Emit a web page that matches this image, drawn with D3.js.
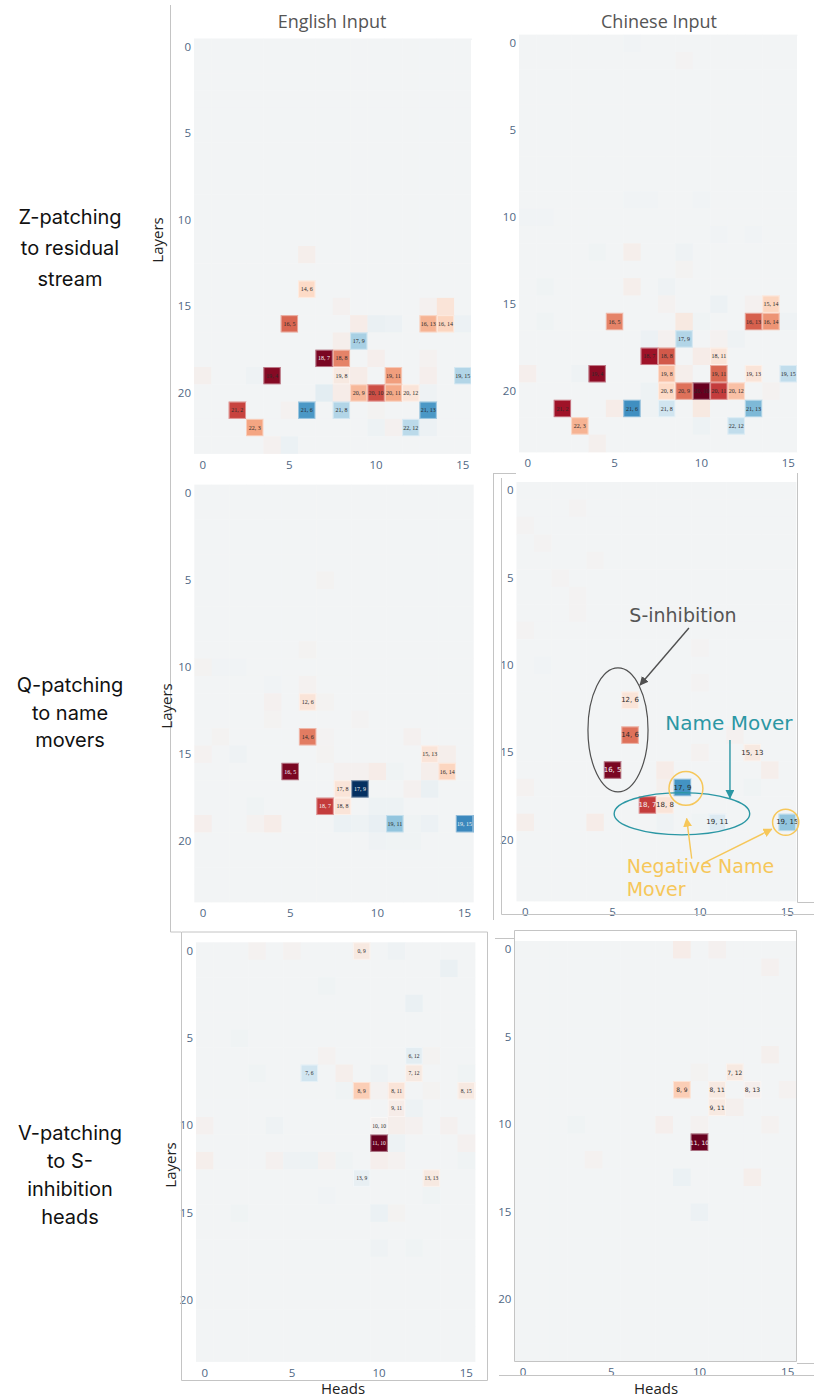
<!DOCTYPE html>
<html>
<head>
<meta charset="utf-8">
<script src="https://cdn.jsdelivr.net/npm/d3@7"></script>
<style>
  body { margin: 0; background: #fff; }
  svg { display: block; }
</style>
</head>
<body>
<svg id="fig"></svg>
<script>
const W = 814, H = 1399;
const HEADS = d3.range(16);
const LAYERS = d3.range(24);
const X_TICKS = [0, 5, 10, 15];
const Y_TICKS = [0, 5, 10, 15, 20];
const COL_TITLES = ["English Input", "Chinese Input"];
const ROW_TITLES = [
    ["Z-patching", "to residual", "stream"],
    ["Q-patching", "to name", "movers"],
    ["V-patching", "to S-", "inhibition", "heads"]
];

// [layer, head, value, labelled]
const zEnglish = [
    [12,6,0.08,0],[14,6,0.2,1],[15,8,0.05,0],[15,13,0.05,0],[15,14,0.15,0],
    [16,5,0.58,1],[16,9,0.1,0],[16,10,-0.08,0],[16,11,-0.06,0],[16,13,0.35,1],[16,14,0.22,1],[16,15,-0.06,0],
    [17,8,0.08,0],[17,9,-0.33,1],
    [18,7,0.95,1],[18,8,0.5,1],[18,10,0.07,0],[18,13,0.04,0],
    [19,0,0.06,0],[19,3,-0.04,0],[19,4,0.92,1],[19,8,0.12,1],[19,9,0.1,0],[19,11,0.42,1],[19,13,0.07,0],[19,15,-0.3,1],
    [20,7,-0.12,0],[20,8,0.1,0],[20,9,0.33,1],[20,10,0.65,1],[20,11,0.38,1],[20,12,0.15,1],[20,13,-0.04,0],
    [21,2,0.68,1],[21,5,0.04,0],[21,6,-0.58,1],[21,8,-0.3,1],[21,10,0.03,0],[21,13,-0.58,1],
    [22,3,0.4,1],[22,10,-0.05,0],[22,11,0.05,0],[22,12,-0.27,1],[22,13,-0.06,0],
    [23,4,0.05,0],[23,5,-0.07,0]
];
const zChinese = [
    [0,6,-0.02,0],[1,9,0.02,0],[9,6,-0.02,0],[9,7,-0.02,0],[9,10,-0.02,0],[10,0,-0.02,0],[10,1,-0.02,0],
    [11,11,-0.02,0],[11,13,-0.02,0],
    [12,4,-0.03,0],[12,6,0.08,0],[12,9,-0.04,0],[13,9,0.03,0],[14,1,-0.03,0],[14,6,0.08,0],[14,8,-0.04,0],
    [15,8,0.04,0],[15,11,-0.06,0],[15,13,0.05,0],[15,14,0.22,1],
    [16,1,-0.03,0],[16,5,0.5,1],[16,9,0.12,0],[16,10,-0.03,0],[16,13,0.6,1],[16,14,0.45,1],[16,15,-0.04,0],
    [17,7,-0.06,0],[17,8,0.05,0],[17,9,-0.3,1],[17,11,0.04,0],[17,12,-0.04,0],
    [18,7,0.85,1],[18,8,0.62,1],[18,10,0.1,0],[18,11,0.15,1],
    [19,0,0.07,0],[19,3,-0.04,0],[19,4,0.9,1],[19,8,0.3,1],[19,9,0.08,0],[19,11,0.58,1],[19,13,0.15,1],[19,15,-0.25,1],
    [20,7,-0.05,0],[20,8,0.2,1],[20,9,0.55,1],[20,10,1.0,1],[20,11,0.7,1],[20,12,0.3,1],[20,14,0.04,0],
    [21,2,0.85,1],[21,5,0.1,0],[21,6,-0.62,1],[21,7,-0.04,0],[21,8,-0.2,1],[21,10,0.12,0],[21,13,-0.45,1],
    [22,3,0.35,1],[22,10,-0.05,0],[22,12,-0.25,1],
    [23,4,0.06,0]
];
const qEnglish = [
    [5,7,0.03,0],[9,6,0.03,0],[10,0,0.03,0],[10,1,-0.02,0],[10,2,-0.02,0],[11,4,-0.02,0],[11,6,0.04,0],
    [12,4,0.05,0],[12,6,0.15,1],[12,7,0.03,0],[13,4,0.03,0],[13,9,0.02,0],
    [14,1,0.03,0],[14,6,0.52,1],[14,7,0.02,0],[14,12,0.05,0],
    [15,0,0.04,0],[15,2,-0.04,0],[15,7,0.03,0],[15,13,0.15,1],[15,14,0.08,0],
    [16,5,0.95,1],[16,8,0.05,0],[16,9,0.05,0],[16,10,0.1,0],[16,11,-0.03,0],[16,13,0.08,0],[16,14,0.22,1],
    [17,8,0.15,1],[17,9,-1.0,1],[17,12,0.05,0],[17,13,-0.08,0],
    [18,3,-0.03,0],[18,7,0.7,1],[18,8,0.15,1],[18,10,-0.05,0],[18,11,-0.05,0],
    [19,0,0.07,0],[19,3,0.04,0],[19,4,0.1,0],[19,8,-0.07,0],[19,9,-0.05,0],[19,10,-0.1,0],[19,11,-0.4,1],
    [19,12,-0.03,0],[19,13,-0.06,0],[19,15,-0.65,1],
    [20,10,-0.04,0],[20,11,-0.03,0],[20,12,-0.03,0]
];
const qChinese = [
    [1,3,0.02,0],[2,0,0.02,0],[3,1,0.02,0],[4,4,0.02,0],[5,2,0.02,0],[6,3,0.02,0],[7,3,0.02,0],[8,0,0.02,0],
    [9,10,0.02,0],[10,1,-0.02,0],[11,10,0.02,0],
    [12,6,0.15,1],[14,6,0.55,1],[14,12,0.05,0],
    [15,10,0.04,0],[15,13,0.12,1],[16,5,0.95,1],[16,8,0.1,0],[16,14,0.08,0],
    [17,0,0.04,0],[17,8,0.06,0],[17,9,-0.6,1],[17,13,-0.03,0],
    [18,7,0.7,1],[18,8,0.15,1],
    [19,0,0.08,0],[19,4,0.1,0],[19,8,-0.04,0],[19,10,-0.03,0],[19,11,-0.15,1],[19,15,-0.4,1]
];
const vEnglish = [
    [0,3,0.04,0],[0,5,0.04,0],[0,9,0.12,1],[0,11,-0.04,0],[1,14,-0.08,0],[2,7,-0.03,0],[3,12,-0.08,0],[5,2,-0.03,0],
    [6,7,0.04,0],[6,12,-0.12,1],[6,13,0.03,0],
    [7,3,-0.03,0],[7,6,-0.2,1],[7,8,0.08,0],[7,10,-0.04,0],[7,12,0.12,1],[7,15,-0.03,0],
    [8,8,-0.03,0],[8,9,0.25,1],[8,10,0.04,0],[8,11,0.15,1],[8,13,0.03,0],[8,15,0.12,1],
    [9,11,0.1,1],[9,12,-0.05,0],
    [10,0,0.05,0],[10,4,-0.04,0],[10,10,0.04,1],[10,11,0.08,0],[10,12,0.05,0],[10,14,0.05,0],
    [11,10,1.0,1],[11,11,-0.05,0],[11,15,0.05,0],
    [12,0,0.08,0],[12,4,0.05,0],[12,5,-0.04,0],[12,6,-0.05,0],[12,7,0.04,0],[12,8,-0.03,0],[12,10,0.07,0],
    [12,11,0.04,0],[12,15,-0.03,0],
    [13,9,-0.1,1],[13,13,0.12,1],[14,7,-0.02,0],[14,13,-0.03,0],
    [15,2,-0.03,0],[15,10,-0.07,0],[15,11,0.03,0],[17,10,-0.04,0],[17,12,-0.03,0]
];
const vChinese = [
    [0,9,0.1,0],[0,11,0.05,0],[1,14,0.05,0],[6,14,0.06,0],
    [7,10,0.03,0],[7,12,0.12,1],
    [8,9,0.25,1],[8,11,0.12,1],[8,13,0.07,1],[8,15,0.04,0],
    [9,11,0.12,1],[9,12,0.06,0],
    [10,3,-0.03,0],[10,8,0.07,0],[10,10,0.04,0],[10,14,0.04,0],
    [11,10,1.0,1],
    [12,4,0.04,0],[13,9,-0.07,0],[13,13,0.08,0],[15,10,-0.06,0]
];

const svg = d3.select("#fig").attr("width", W).attr("height", H);

// RdBu, positive = red, with a slightly cool neutral like the screenshots;
// the extra stops at +-0.1 keep near-zero cells as faint as in the original
const color = d3.scaleLinear()
    .domain([-1, -0.8, -0.6, -0.4, -0.2, -0.1, 0, 0.1, 0.2, 0.4, 0.6, 0.8, 1])
    .range(["#053061", "#2166ac", "#4393c3", "#92c5de", "#d1e5f0", "#e8eff3", "#f2f4f5",
            "#f6ece8", "#fddbc7", "#f4a582", "#d6604d", "#b2182b", "#67001f"])
    .clamp(true);

const SERIF = "'Liberation Serif', 'DejaVu Serif', serif";
const SANS = "'DejaVu Sans', sans-serif";
const PLOTLY = "'Open Sans', 'Liberation Sans', sans-serif";

const panels = [
    {cells: zEnglish, left: 194, top: 38.5, right: 471.5, bottom: 453.5, font: SERIF, size: 6, white: 0.93},
    {cells: zChinese, left: 519, top: 34.6, right: 797, bottom: 452, font: SERIF, size: 6, white: 2},
    {cells: qEnglish, left: 194.3, top: 484.6, right: 473.3, bottom: 902, font: SERIF, size: 6, white: 0.65},
    {cells: qChinese, left: 516.5, top: 482, right: 796, bottom: 901, font: SANS, size: 7, white: 0.65},
    {cells: vEnglish, left: 196, top: 942.3, right: 475, bottom: 1361.5, font: SERIF, size: 5.5, white: 0.65},
    {cells: vChinese, left: 514.3, top: 941, right: 796.5, bottom: 1361, font: SANS, size: 6, white: 0.65}
];


function drawPanel(p) {
    const x = d3.scaleBand().domain(HEADS).range([p.left, p.right]);
    const y = d3.scaleBand().domain(LAYERS).range([p.top, p.bottom]);
    const lookup = new Map(p.cells.map(d => [d[0] + "," + d[1], d]));
    const grid = [];
    LAYERS.forEach(l => HEADS.forEach(h => {
        const c = lookup.get(l + "," + h);
        grid.push({layer: l, head: h, value: c ? c[2] : 0, label: c ? c[3] : 0});
    }));

    const g = svg.append("g");
    g.selectAll(".cell").data(grid).join("rect")
        .attr("class", "cell")
        .attr("x", d => x(d.head))
        .attr("y", d => y(d.layer))
        .attr("width", x.bandwidth() + 0.4)
        .attr("height", y.bandwidth() + 0.4)
        .attr("fill", d => color(d.value));

    const labelled = grid.filter(d => d.label);
    g.selectAll(".hl").data(labelled).join("rect")
        .attr("class", "hl")
        .attr("x", d => x(d.head) + 0.5)
        .attr("y", d => y(d.layer) + 0.5)
        .attr("width", x.bandwidth() - 1)
        .attr("height", y.bandwidth() - 1)
        .attr("fill", "none")
        .attr("stroke", "rgba(255,255,255,0.45)")
        .attr("stroke-width", 1);
    g.selectAll(".lbl").data(labelled).join("text")
        .attr("class", "lbl")
        .attr("x", d => x(d.head) + x.bandwidth() / 2)
        .attr("y", d => y(d.layer) + y.bandwidth() / 2)
        .attr("text-anchor", "middle")
        .attr("dominant-baseline", "central")
        .style("font-family", p.font)
        .style("font-size", p.size + "px")
        .style("fill", d => Math.abs(d.value) >= p.white ? "#f4f4f4" : "#2a2a2a")
        .text(d => d.layer + ", " + d.head);

    // axes
    const ax = g.append("g")
        .attr("transform", "translate(0," + p.bottom + ")")
        .call(d3.axisBottom(x).tickValues(X_TICKS).tickSize(0).tickPadding(7));
    const ay = g.append("g")
        .attr("transform", "translate(" + p.left + ",0)")
        .call(d3.axisLeft(y).tickValues(Y_TICKS).tickSize(0).tickPadding(3));
    [ax, ay].forEach(a => {
        a.select(".domain").remove();
        a.selectAll("text")
            .style("font-family", PLOTLY)
            .style("font-size", "11.5px")
            .style("fill", "#506784");
    });
}

panels.forEach(drawPanel);


// collage borders between screenshots
const frames = [
    "M170.5,5 V932 H181",
    "M181.5,932 H487.5 V1380.5 H181.5 Z",
    "M493.5,473 V920 M493.5,473.5 H516 M501.5,478 V914.5 H814 M797.5,473 V902.5 H814",
    "M514.5,930.5 H796.5 V1361.5 H514.5 Z M495,938.5 H514 M797,1363.5 H814 M499,1375.5 H814",
    "M471.5,40 V454 M797.5,36 V452"
];
svg.append("g").selectAll("path").data(frames).join("path")
    .attr("d", d => d)
    .attr("fill", "none")
    .attr("stroke", (d, i) => i === 4 ? "#ffffff" : "#c4c4c4")
    .attr("stroke-width", 1);

// column titles
svg.selectAll(".coltitle").data(COL_TITLES).join("text")
    .attr("class", "coltitle")
    .attr("x", (d, i) => i === 0 ? 332 : 659)
    .attr("y", 28)
    .attr("text-anchor", "middle")
    .style("font-family", PLOTLY)
    .style("font-size", "18px")
    .style("fill", "#555")
    .text(d => d);

// row titles on the left
const rowTops = [217, 685, 1133];
const rowSteps = [31, 27.5, 28];
ROW_TITLES.forEach((lines, r) => {
    svg.append("text")
        .attr("x", 70)
        .attr("text-anchor", "middle")
        .style("font-family", "Inter, 'Noto Sans', sans-serif")
        .style("font-size", "20px")
        .style("fill", "#111")
        .selectAll("tspan").data(lines).join("tspan")
        .attr("x", 70)
        .attr("y", (d, i) => rowTops[r] + 7 + i * rowSteps[r])
        .text(d => d);
});

// axis titles
const layerTitles = [[157, 240], [166, 706], [170, 1165]];
svg.selectAll(".ytitle").data(layerTitles).join("text")
    .attr("class", "ytitle")
    .attr("transform", d => "translate(" + d[0] + "," + d[1] + ") rotate(-90)")
    .attr("text-anchor", "middle")
    .attr("dominant-baseline", "central")
    .style("font-family", PLOTLY)
    .style("font-size", "15px")
    .style("fill", "#222")
    .text("Layers");
svg.selectAll(".xtitle").data([343, 656]).join("text")
    .attr("class", "xtitle")
    .attr("x", d => d)
    .attr("y", 1394)
    .attr("text-anchor", "middle")
    .style("font-family", PLOTLY)
    .style("font-size", "15px")
    .style("fill", "#222")
    .text("Heads");


// annotations on the Q-patching / Chinese panel, in head/layer units
const qp = panels[3];
const hx = d3.scaleLinear().domain([-0.5, 15.5]).range([qp.left, qp.right]);
const ly = d3.scaleLinear().domain([-0.5, 23.5]).range([qp.top, qp.bottom]);
const cw = hx(1) - hx(0), ch = ly(1) - ly(0);
const GREY = "#505050", TEAL = "#2b97a4", GOLD = "#f6c75a";

const defs = svg.append("defs");
[["arGrey", GREY], ["arTeal", TEAL], ["arGold", GOLD]].forEach(([id, c]) => {
    defs.append("marker")
        .attr("id", id)
        .attr("viewBox", "0 0 10 10")
        .attr("refX", 9).attr("refY", 5)
        .attr("markerWidth", 9).attr("markerHeight", 9)
        .attr("markerUnits", "userSpaceOnUse")
        .attr("orient", "auto")
        .append("path").attr("d", "M0,0 L10,5 L0,10 Z").attr("fill", c);
});

const ann = svg.append("g");
const ellipses = [
    {h: 5.31, l: 13.7, rh: 1.72, rl: 3.55, c: GREY, w: 1.2},
    {h: 8.97, l: 18.5, rh: 3.88, rl: 1.21, c: TEAL, w: 1.4},
    {h: 9.2, l: 17.05, rh: 0.97, rl: 0.97, c: GOLD, w: 1.5},
    {h: 14.91, l: 18.99, rh: 0.75, rl: 0.75, c: GOLD, w: 1.5}
];
ann.selectAll("ellipse").data(ellipses).join("ellipse")
    .attr("cx", d => hx(d.h))
    .attr("cy", d => ly(d.l))
    .attr("rx", d => d.rh * cw)
    .attr("ry", d => d.rl * (d.rh === d.rl ? cw : ch))
    .attr("fill", "none")
    .attr("stroke", d => d.c)
    .attr("stroke-width", d => d.w);

const arrows = [
    {h1: 9.37, l1: 7.86, h2: 6.57, l2: 11.13, c: GREY, m: "arGrey"},
    {h1: 11.72, l1: 14.28, h2: 11.72, l2: 17.6, c: TEAL, m: "arTeal"},
    {h1: 9.53, l1: 21.07, h2: 9.24, l2: 18.78, c: GOLD, m: "arGold"},
    {h1: 10.18, l1: 21.35, h2: 14.11, l2: 19.39, c: GOLD, m: "arGold"}
];
ann.selectAll("line").data(arrows).join("line")
    .attr("x1", d => hx(d.h1)).attr("y1", d => ly(d.l1))
    .attr("x2", d => hx(d.h2)).attr("y2", d => ly(d.l2))
    .attr("stroke", d => d.c)
    .attr("stroke-width", 1.4)
    .attr("marker-end", d => "url(#" + d.m + ")");

const notes = [
    {t: "S-inhibition", h: 9.03, l: 7.52, c: "#555", s: 19, a: "middle"},
    {t: "Name Mover", h: 11.66, l: 13.7, c: TEAL, s: 20, a: "middle"},
    {t: "Negative Name", h: 5.81, l: 21.89, c: GOLD, s: 19, a: "start"},
    {t: "Mover", h: 5.81, l: 23.21, c: GOLD, s: 19, a: "start"}
];
ann.selectAll("text").data(notes).join("text")
    .attr("x", d => hx(d.h))
    .attr("y", d => ly(d.l))
    .attr("text-anchor", d => d.a)
    .style("font-family", SANS)
    .style("font-size", d => d.s + "px")
    .style("fill", d => d.c)
    .text(d => d.t);
</script>
</body>
</html>
